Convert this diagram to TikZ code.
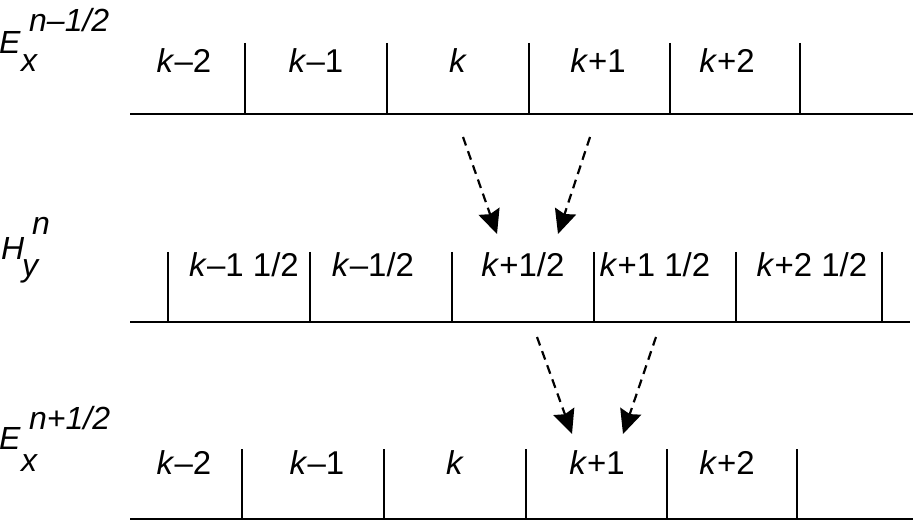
\documentclass[tikz,border=0pt]{standalone}
\usepackage{fontspec}
\setmainfont{Liberation Sans}
\usetikzlibrary{arrows.meta}
\begin{document}
\begin{tikzpicture}[x=1pt,y=-1pt,
  lbl/.style={anchor=base,inner sep=0pt,font=\fontsize{33}{38}\selectfont},
  axl/.style={anchor=base west,inner sep=0pt,font=\fontsize{32}{36}\selectfont\itshape},
  rule/.style={line width=2.8pt},
  tick/.style={line width=2.4pt},
  flow/.style={line width=2.2pt,dash pattern=on 9pt off 6pt,-{Stealth[length=24pt,width=22pt,inset=3pt]}}]
\useasboundingbox (0,0) rectangle (913,521);
% row 1
\draw[rule] (130,114) -- (913,114);
\foreach \x in {245,387,529,670,800} \draw[tick] (\x,43) -- (\x,114);
\node[lbl] (a1) at (184,73) {\textit{k}–2};
\node[lbl] (a2) at (316,73) {\textit{k}–1};
\node[lbl] (a3) at (458,73) {\textit{k}};
\node[lbl] (a4) at (598,73) {\textit{k}+1};
\node[lbl] (a5) at (727,73) {\textit{k}+2};
\node[axl] (e1) at (-1,54) {E};
\node[axl] (e1sub) at (21,72) {x};
\node[axl] (e1sup) at (29,32) {n–1/2};
% row 2
\draw[rule] (130,322) -- (910,322);
\foreach \x in {168,310,452,594,736,882} \draw[tick] (\x,252) -- (\x,322);
\node[lbl] (b1) at (244,277) {\textit{k}–1 1/2};
\node[lbl] (b2) at (373,277) {\textit{k}–1/2};
\node[lbl] (b3) at (523,277) {\textit{k}+1/2};
\node[lbl] (b4) at (655,277) {\textit{k}+1 1/2};
\node[lbl] (b5) at (812,277) {\textit{k}+2 1/2};
\node[axl] (h) at (1,260) {H};
\node[axl] (hsub) at (22,277) {y};
\node[axl] (hsup) at (32,235) {n};
% row 3
\draw[rule] (130,519) -- (913,519);
\foreach \x in {242,384,526,667,797} \draw[tick] (\x,449) -- (\x,519);
\node[lbl] (c1) at (184,474) {\textit{k}–2};
\node[lbl] (c2) at (317,474) {\textit{k}–1};
\node[lbl] (c3) at (455,474) {\textit{k}};
\node[lbl] (c4) at (597,474) {\textit{k}+1};
\node[lbl] (c5) at (727,474) {\textit{k}+2};
\node[axl] (e3) at (-1,449) {E};
\node[axl] (e3sub) at (21,471) {x};
\node[axl] (e3sup) at (29,429) {n+1/2};
% arrows
\coordinate (p1) at (463,137);
\coordinate (q1) at (497,234);
\coordinate (p2) at (590,137);
\coordinate (q2) at (558,234);
\coordinate (p3) at (537,337);
\coordinate (q3) at (572,434);
\coordinate (p4) at (656,337);
\coordinate (q4) at (623,434);
\draw[flow] (p1) -- (q1);
\draw[flow] (p2) -- (q2);
\draw[flow] (p3) -- (q3);
\draw[flow] (p4) -- (q4);
\end{tikzpicture}
\end{document}
